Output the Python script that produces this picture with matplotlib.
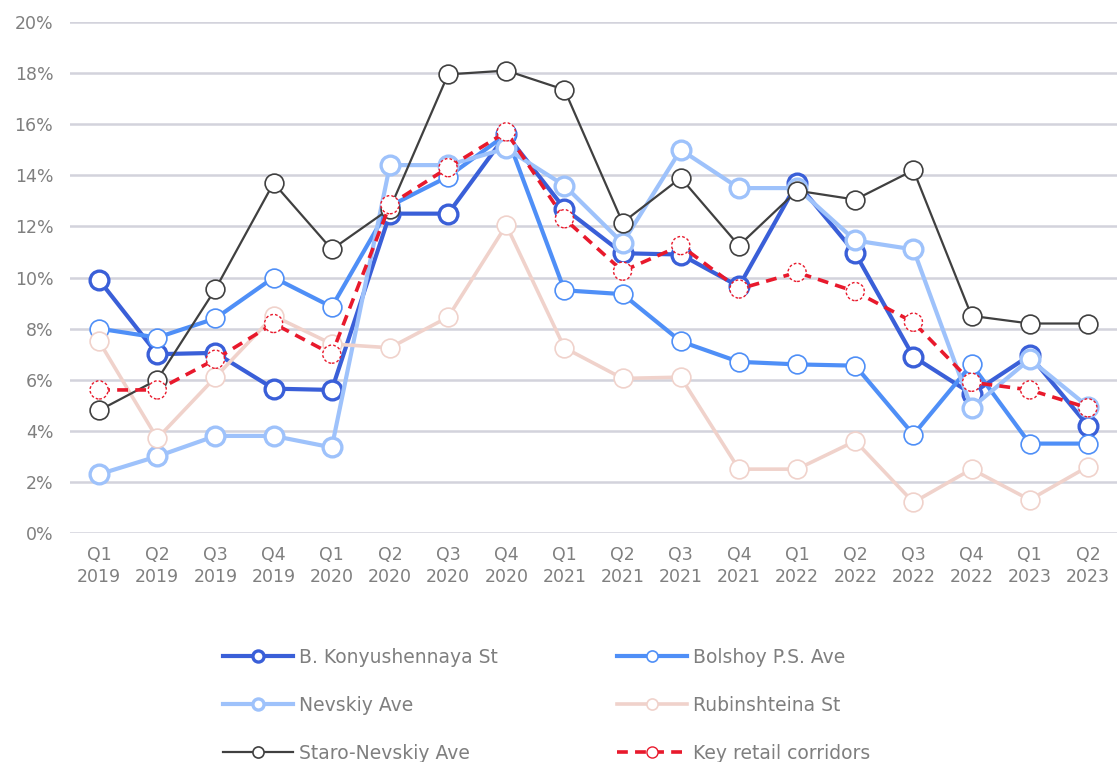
import matplotlib

matplotlib.use("Agg")
import matplotlib.pyplot as plt  # noqa: E402
from matplotlib.lines import Line2D  # noqa: E402

# --- data (vacancy rate, %) -------------------------------------------------

QUARTERS = ["Q1\n2019", "Q2\n2019", "Q3\n2019", "Q4\n2019",
            "Q1\n2020", "Q2\n2020", "Q3\n2020", "Q4\n2020",
            "Q1\n2021", "Q2\n2021", "Q3\n2021", "Q4\n2021",
            "Q1\n2022", "Q2\n2022", "Q3\n2022", "Q4\n2022",
            "Q1\n2023", "Q2\n2023"]

KONYUSHENNAYA = [9.9, 7.0, 7.05, 5.65, 5.6, 12.5, 12.5, 15.6,
                 12.7, 10.95, 10.9, 9.65, 13.7, 10.95, 6.9, 5.45, 6.95, 4.2]
BOLSHOY = [8.0, 7.65, 8.4, 10.0, 8.85, 12.8, 13.95, 15.6,
           9.5, 9.35, 7.5, 6.7, 6.6, 6.55, 3.85, 6.6, 3.5, 3.5]
NEVSKIY = [2.3, 3.0, 3.8, 3.8, 3.35, 14.4, 14.4, 15.05,
           13.6, 11.35, 15.0, 13.5, 13.5, 11.45, 11.1, 4.9, 6.8, 4.95]
RUBINSHTEINA = [7.5, 3.7, 6.1, 8.5, 7.4, 7.25, 8.45, 12.05,
                7.25, 6.05, 6.1, 2.5, 2.5, 3.6, 1.2, 2.5, 1.3, 2.6]
STARO_NEVSKIY = [4.8, 6.0, 9.55, 13.7, 11.1, 12.7, 17.95, 18.1,
                 17.35, 12.15, 13.9, 11.25, 13.4, 13.05, 14.2, 8.5, 8.2, 8.2]
KEY_CORRIDORS = [5.6, 5.6, 6.8, 8.2, 7.0, 12.85, 14.3, 15.7,
                 12.3, 10.25, 11.25, 9.55, 10.2, 9.45, 8.25, 5.9, 5.6, 4.9]

GREY = "#7f7f7f"
GRID = "#d3d3dc"


def main():
    plt.rcParams["font.family"] = ["DejaVu Sans"]
    fig = plt.figure(figsize=(11.17, 7.62), dpi=100)
    ax = fig.add_axes([0.0627, 0.3005, 0.9373, 0.6706])

    x = list(range(len(QUARTERS)))
    # (values, label, colour, linewidth, marker edge width)
    series = [
        (KONYUSHENNAYA, "B. Konyushennaya St", "#3a5fd8", 3.0, 2.4),
        (BOLSHOY, "Bolshoy P.S. Ave", "#4f8ff7", 3.0, 1.2),
        (NEVSKIY, "Nevskiy Ave", "#9ec2fb", 3.0, 2.4),
        (RUBINSHTEINA, "Rubinshteina St", "#f0d2cb", 2.6, 1.2),
        (STARO_NEVSKIY, "Staro-Nevskiy Ave", "#404040", 1.6, 1.2),
    ]
    handles = []
    for vals, label, color, lw, mew in series:
        ax.plot(x, vals, color=color, linewidth=lw, marker="o",
                markersize=13.5, markerfacecolor="white",
                markeredgecolor=color, markeredgewidth=mew, zorder=3)
        handles.append(Line2D([], [], color=color, linewidth=lw, marker="o",
                              markersize=8, markerfacecolor="white",
                              markeredgecolor=color, markeredgewidth=mew))

    red = "#e8192c"
    ax.plot(x, KEY_CORRIDORS, color=red, linewidth=2.6,
            linestyle=(0, (3, 2)), zorder=4)
    ax.scatter(x, KEY_CORRIDORS, s=170, facecolors="white", edgecolors=red,
               linewidths=1.0, linestyles=(0, (2, 1.5)), zorder=5)
    handles.append(Line2D([], [], color=red, linewidth=2.6,
                          linestyle=(0, (3, 2)), marker="o", markersize=8,
                          markerfacecolor="white", markeredgecolor=red,
                          markeredgewidth=1.0))

    ax.set_xlim(-0.5, len(QUARTERS) - 0.5)
    ax.set_ylim(0, 20)
    ax.set_yticks(range(0, 21, 2))
    ax.set_yticklabels([f"{v}%" for v in range(0, 21, 2)])
    ax.set_xticks(x)
    ax.set_xticklabels(QUARTERS, linespacing=1.3)
    ax.tick_params(axis="both", length=0, labelsize=12.5, labelcolor=GREY)
    ax.tick_params(axis="y", pad=12)
    ax.tick_params(axis="x", pad=9)
    for s in ax.spines.values():
        s.set_visible(False)
    ax.grid(axis="y", color=GRID, linewidth=1.8)
    ax.set_axisbelow(True)

    # legend order: rows filled left to right
    order = [0, 2, 4, 1, 3, 5]
    labels = [s[1] for s in series] + ["Key retail corridors"]
    fig.legend([handles[i] for i in order], [labels[i] for i in order],
               ncol=2, loc="upper left", bbox_to_anchor=(0.1846, 0.172),
               frameon=False, fontsize=13.5, labelcolor=GREY,
               handlelength=3.73, handletextpad=0.32, columnspacing=6.37,
               labelspacing=1.55)

    fig.savefig("out.png", dpi=100)
    plt.close(fig)


if __name__ == "__main__":
    main()
